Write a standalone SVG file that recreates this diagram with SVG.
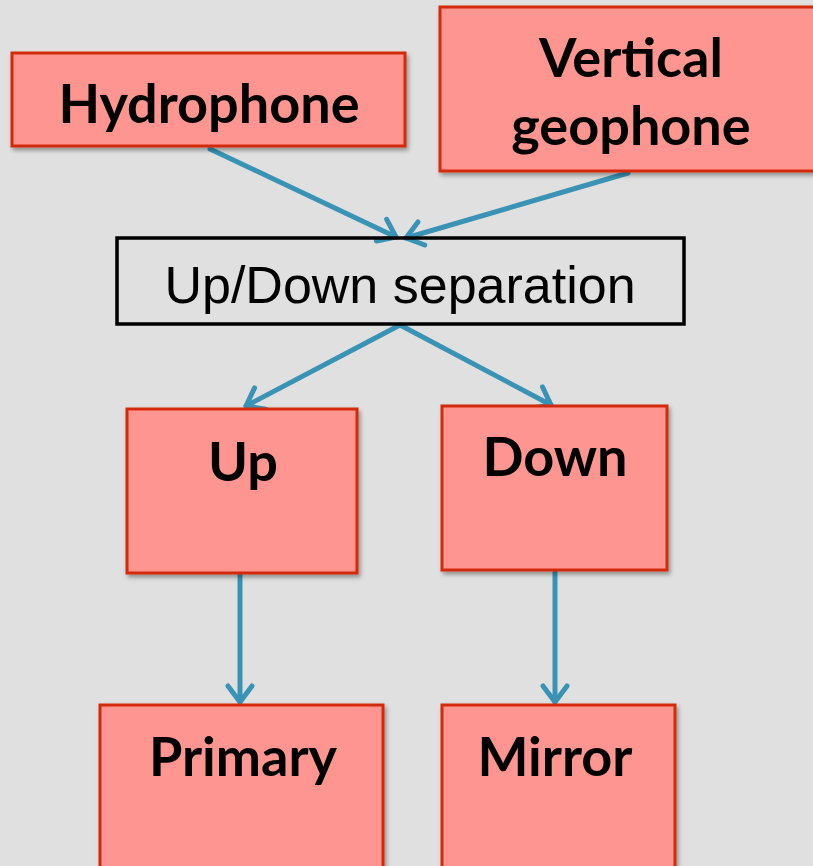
<svg xmlns="http://www.w3.org/2000/svg" width="813" height="866" viewBox="0 0 813 866">
  <defs>
    <filter id="shadow" x="-10%" y="-10%" width="120%" height="130%">
      <feDropShadow dx="2" dy="3" stdDeviation="2" flood-color="#000" flood-opacity="0.35"/>
    </filter>
    <marker id="chevron" markerUnits="userSpaceOnUse" markerWidth="40" markerHeight="40" refX="20" refY="20" orient="auto" overflow="visible">
      <path d="M4,8 L20,20 L4,32" fill="none" stroke="#3a93b5" stroke-width="5" stroke-linecap="round" stroke-linejoin="round"/>
    </marker>
  </defs>
  <style>
    .box { fill: #ff9591; stroke: #d32a0c; stroke-width: 3; filter: url(#shadow); }
    .plain { fill: none; stroke: #000; stroke-width: 3.5; }
    .bold { font-family: Lato, "Open Sans", "Liberation Sans", sans-serif; font-weight: bold; font-size: 54px; fill: #000; text-anchor: middle; }
    .reg { font-family: "Liberation Sans", Arial, sans-serif; font-size: 52px; fill: #000; text-anchor: middle; }
    .link { fill: none; stroke: #3a93b5; stroke-width: 5; stroke-linecap: round; marker-end: url(#chevron); }
  </style>

  <rect width="813" height="866" fill="#e0e0e0"/>

  <g id="connectors">
    <line class="link" x1="210" y1="149" x2="396" y2="237"/>
    <line class="link" x1="628" y1="173" x2="406" y2="238"/>
    <line class="link" x1="400" y1="325" x2="246" y2="406"/>
    <line class="link" x1="400" y1="325" x2="551" y2="405"/>
    <line class="link" x1="240" y1="575" x2="240" y2="702"/>
    <line class="link" x1="555" y1="572" x2="555" y2="702"/>
  </g>

  <g id="hydrophone">
    <rect class="box" x="12" y="53" width="393" height="93"/>
    <text class="bold" x="209" y="123">Hydrophone</text>
  </g>

  <g id="vertical-geophone">
    <rect class="box" x="440" y="7" width="390" height="164"/>
    <text class="bold" x="631" y="77">Vertical</text>
    <text class="bold" x="631" y="145">geophone</text>
  </g>

  <g id="separation">
    <rect class="plain" x="117" y="238" width="567" height="86"/>
    <text class="reg" x="400" y="303">Up/Down separation</text>
  </g>

  <g id="up">
    <rect class="box" x="127" y="409" width="230" height="164"/>
    <text class="bold" x="243" y="481">Up</text>
  </g>

  <g id="down">
    <rect class="box" x="442" y="406" width="225" height="164"/>
    <text class="bold" x="555" y="476">Down</text>
  </g>

  <g id="primary">
    <rect class="box" x="100" y="705" width="283" height="190"/>
    <text class="bold" x="243" y="776">Primary</text>
  </g>

  <g id="mirror">
    <rect class="box" x="442" y="705" width="233" height="190"/>
    <text class="bold" x="555" y="776">Mirror</text>
  </g>
</svg>
